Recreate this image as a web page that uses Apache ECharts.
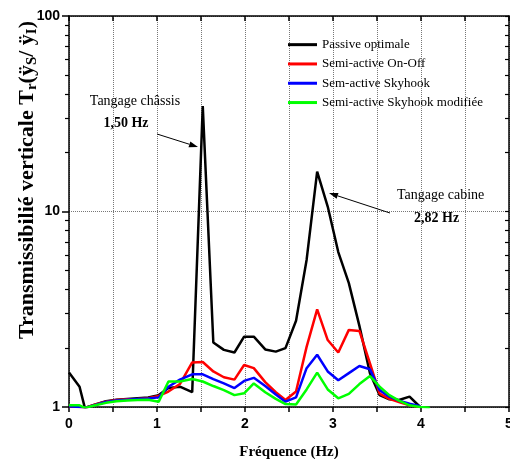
<!DOCTYPE html>
<html><head><meta charset="utf-8">
<script src="https://cdn.jsdelivr.net/npm/echarts@6/dist/echarts.min.js"></script>
<style>html,body{margin:0;padding:0;background:#fff}#c{width:510px;height:459px}</style>
</head><body><div id="c"></div>
<script>
// ---- data ----
const freq = [0, 0.12, 0.18, 0.30, 0.42, 0.54, 0.66, 0.78, 0.90, 1.02, 1.13, 1.26, 1.40, 1.52, 1.64, 1.76, 1.88, 1.99, 2.10, 2.23, 2.35, 2.46, 2.58, 2.70, 2.82, 2.94, 3.06, 3.18, 3.30, 3.42, 3.53, 3.64, 3.75, 3.87, 3.99, 4.10];
const passive = [1.50, 1.27, 0.99, 1.03, 1.07, 1.09, 1.10, 1.11, 1.12, 1.15, 1.25, 1.27, 1.19, 34.6, 2.14, 1.96, 1.90, 2.29, 2.29, 1.97, 1.92, 2.0, 2.76, 5.65, 16.0, 10.6, 6.2, 4.3, 2.6, 1.49, 1.15, 1.095, 1.086, 1.13, 1.0, null];
const onOff = [1.01, 1.0, 0.99, 1.03, 1.065, 1.085, 1.095, 1.10, 1.11, 1.14, 1.20, 1.31, 1.69, 1.70, 1.52, 1.42, 1.38, 1.64, 1.58, 1.34, 1.19, 1.085, 1.20, 2.03, 3.16, 2.20, 1.90, 2.48, 2.45, 1.67, 1.17, 1.10, 1.06, 1.02, 1.0, null];
const skyhook = [1.01, 1.0, 0.99, 1.025, 1.06, 1.08, 1.09, 1.10, 1.105, 1.12, 1.27, 1.38, 1.47, 1.47, 1.39, 1.32, 1.25, 1.36, 1.41, 1.28, 1.16, 1.065, 1.12, 1.58, 1.85, 1.52, 1.37, 1.49, 1.62, 1.56, 1.22, 1.13, 1.077, 1.04, 1.01, null];
const skyhookMod = [1.02, 1.02, 0.99, 1.02, 1.05, 1.07, 1.08, 1.085, 1.09, 1.065, 1.35, 1.35, 1.39, 1.35, 1.28, 1.22, 1.15, 1.175, 1.32, 1.19, 1.10, 1.035, 1.03, 1.23, 1.50, 1.23, 1.108, 1.166, 1.31, 1.44, 1.27, 1.15, 1.077, 1.02, 1.0, 0.99];
const seriesNames = ['Passive optimale', 'Semi-active On-Off', 'Sem-active Skyhook', 'Semi-active Skyhook modifiée'];
const seriesColors = ['#000000', '#ff0000', '#0000ff', '#00ff00'];
const xHalfTicks = [0, 0.5, 1, 1.5, 2, 2.5, 3, 3.5, 4, 4.5, 5];
const yMajorTicks = [1, 10, 100];
const yMinorTicks = [2, 3, 4, 5, 6, 7, 8, 9, 20, 30, 40, 50, 60, 70, 80, 90];
const yAllTicks = [1, 2, 3, 4, 5, 6, 7, 8, 9, 10, 20, 30, 40, 50, 60, 70, 80, 90, 100];

const chart = echarts.init(document.getElementById('c'), null, {renderer: 'canvas'});
function pairs(ys) { return freq.map((f, i) => [f, ys[i]]).filter(p => p[1] != null); }

const lineCol = '#000';
const axLine = {show: true, onZero: false, lineStyle: {color: lineCol, width: 1.5}};
const tickFont = {fontFamily: 'Liberation Sans, Arial', fontWeight: 'bold', fontSize: 14, color: '#000'};

function arrow(x1, y1, x2, y2) {
  const a = Math.atan2(y2 - y1, x2 - x1), L = 9, W = 3;
  const bx = x2 - L * Math.cos(a), by = y2 - L * Math.sin(a);
  const px = -Math.sin(a) * W, py = Math.cos(a) * W;
  return [
    {type: 'line', shape: {x1: x1, y1: y1, x2: bx, y2: by}, style: {stroke: '#000', lineWidth: 1}, z: 100},
    {type: 'polygon', shape: {points: [[x2, y2], [bx + px, by + py], [bx - px, by - py]]}, style: {fill: '#000'}, z: 100}
  ];
}
const serif = 'Liberation Serif, Times New Roman, serif';

const option = {
  animation: false,
  backgroundColor: '#fff',
  grid: {left: 69, right: 1, top: 16, bottom: 52, containLabel: false, outerBoundsMode: 'none'},
  legend: {
    orient: 'vertical', left: 288, top: 35, padding: 0, itemGap: 0,
    itemWidth: 29, itemHeight: 3, icon: 'rect',
    textStyle: {fontFamily: serif, fontSize: 13, color: '#000', lineHeight: 19.3},
    data: seriesNames
  },
  xAxis: [
    {type: 'value', min: 0, max: 5, interval: 1, position: 'bottom',
     axisLine: axLine,
     axisTick: {show: true, inside: false, length: 5, customValues: xHalfTicks, lineStyle: {color: lineCol, width: 1.5}},
     axisLabel: Object.assign({margin: 10}, tickFont),
     splitLine: {show: true, lineStyle: {type: 'dotted', color: '#777', width: 1}},
     name: 'Fréquence (Hz)', nameLocation: 'middle', nameGap: 38,
     nameTextStyle: {fontFamily: serif, fontWeight: 'bold', fontSize: 15, color: '#000'}},
    {type: 'value', min: 0, max: 5, interval: 1, position: 'top',
     axisLine: axLine,
     axisTick: {show: true, inside: true, length: 5, customValues: xHalfTicks, lineStyle: {color: lineCol, width: 1.5}},
     axisLabel: {show: false}, splitLine: {show: false}}
  ],
  yAxis: [
    {type: 'log', logBase: 10, min: 1, max: 100, position: 'left',
     axisLine: axLine,
     axisTick: {show: true, inside: false, length: 7, customValues: yMajorTicks, lineStyle: {color: lineCol, width: 1.5}},
     axisLabel: Object.assign({margin: 9, customValues: yMajorTicks}, tickFont),
     splitLine: {show: true, lineStyle: {type: 'dotted', color: '#777', width: 1}}},
    {type: 'log', logBase: 10, min: 1, max: 100, position: 'left',
     axisLine: {show: false},
     axisTick: {show: true, inside: false, length: 4, customValues: yMinorTicks, lineStyle: {color: lineCol, width: 1.2}},
     axisLabel: {show: false}, splitLine: {show: false}},
    {type: 'log', logBase: 10, min: 1, max: 100, position: 'right',
     axisLine: axLine,
     axisTick: {show: true, inside: true, length: 4, customValues: yAllTicks, lineStyle: {color: lineCol, width: 1.2}},
     axisLabel: {show: false}, splitLine: {show: false}}
  ],
  series: [passive, onOff, skyhook, skyhookMod].map((ys, i) => ({
    name: seriesNames[i], type: 'line', data: pairs(ys),
    xAxisIndex: 0, yAxisIndex: 0, showSymbol: false, symbol: 'none',
    color: seriesColors[i], lineStyle: {color: seriesColors[i], width: 2.5}, clip: true, z: 10 + i
  })),
  graphic: [
    {type: 'text', x: 27, y: 180, rotation: Math.PI / 2, z: 100,
     style: {text: '{a|Transmissibilié verticale T}{s|r}{a|(ÿ}{s|S}{a|/ ÿ}{s|I}{a|)}',
       align: 'center', verticalAlign: 'middle',
       rich: {
         a: {fontFamily: serif, fontWeight: 'bold', fontSize: 22, lineHeight: 26, fill: '#000'},
         s: {fontFamily: serif, fontWeight: 'bold', fontSize: 15, lineHeight: 15, verticalAlign: 'bottom', padding: [6, 0, 0, 0], fill: '#000'}
       }}},
    {type: 'text', x: 135, y: 101, z: 100, style: {text: 'Tangage châssis', font: '14px ' + serif, fill: '#000', align: 'center', verticalAlign: 'middle'}},
    {type: 'text', x: 126, y: 123, z: 100, style: {text: '1,50 Hz', font: 'bold 14px ' + serif, fill: '#000', align: 'center', verticalAlign: 'middle'}},
    {type: 'text', x: 397, y: 195, z: 100, style: {text: 'Tangage cabine', font: '14px ' + serif, fill: '#000', align: 'left', verticalAlign: 'middle'}},
    {type: 'text', x: 414, y: 218, z: 100, style: {text: '2,82 Hz', font: 'bold 14px ' + serif, fill: '#000', align: 'left', verticalAlign: 'middle'}}
  ].concat(arrow(157, 134, 198, 147)).concat(arrow(390, 213, 329, 193))
};
chart.setOption(option);
</script></body></html>
